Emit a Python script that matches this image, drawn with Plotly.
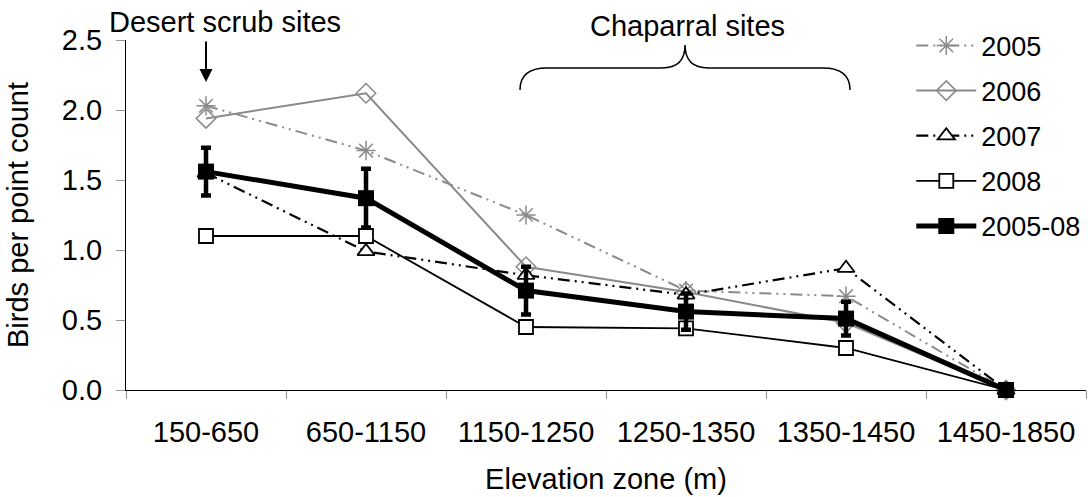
import plotly.graph_objects as go

# Elevation zones (categories on the x axis)
zones = ["150-650", "650-1150", "1150-1250", "1250-1350", "1350-1450", "1450-1850"]

# Birds per point count, by year
y2005 = [2.03, 1.71, 1.25, 0.71, 0.67, 0.0]
y2006 = [1.94, 2.12, 0.88, 0.70, 0.48, 0.0]
y2007 = [1.55, 0.99, 0.82, 0.68, 0.87, 0.0]
y2008 = [1.10, 1.10, 0.45, 0.44, 0.30, 0.0]
mean_0508 = [1.56, 1.37, 0.71, 0.56, 0.51, 0.0]
err_0508 = [0.17, 0.21, 0.17, 0.13, 0.12, 0.0]

# Axis ticks
y_ticks = [0.0, 0.5, 1.0, 1.5, 2.0, 2.5]

FONT = "Liberation Sans, Arial, sans-serif"
GRAY = "#8a8a8a"
DASH_DOT_DOT = "12px,5px,2px,5px,2px,5px"
FS = 29

fig = go.Figure()

fig.add_trace(go.Scatter(
    x=zones, y=y2005, name="2005", mode="lines+markers", legendgroup="a",
    line=dict(color=GRAY, width=2, dash=DASH_DOT_DOT),
    marker=dict(symbol="asterisk-open", size=16, color=GRAY, line=dict(color=GRAY, width=1.5)),
    cliponaxis=False,
))
fig.add_trace(go.Scatter(
    x=zones, y=y2006, name="2006", mode="lines+markers", legendgroup="b",
    line=dict(color=GRAY, width=2),
    marker=dict(symbol="diamond-open", size=15, color=GRAY, line=dict(color=GRAY, width=1.5)),
    cliponaxis=False,
))
fig.add_trace(go.Scatter(
    x=zones, y=y2007, name="2007", mode="lines+markers", legendgroup="c",
    line=dict(color="black", width=2.2, dash=DASH_DOT_DOT),
    marker=dict(symbol="triangle-up", size=15, color="white", line=dict(color="black", width=1.8)),
    cliponaxis=False,
))
fig.add_trace(go.Scatter(
    x=zones, y=y2008, name="2008", mode="lines+markers", legendgroup="d",
    line=dict(color="black", width=1.8),
    marker=dict(symbol="square", size=14, color="white", line=dict(color="black", width=1.8)),
    cliponaxis=False,
))
fig.add_trace(go.Scatter(
    x=zones, y=mean_0508, name="2005-08", mode="lines+markers", legendgroup="e",
    line=dict(color="black", width=5),
    marker=dict(symbol="square", size=16, color="black"),
    error_y=dict(type="data", array=err_0508, visible=True, color="black",
                 thickness=4.5, width=5),
    cliponaxis=False,
))

# Bracket over the chaparral zones
brace = ("M 1.9625,2.143 Q 1.9625,2.30 2.13,2.30 L 2.85,2.30 "
         "Q 2.994,2.30 2.994,2.464 Q 2.994,2.30 3.14,2.30 L 3.856,2.30 "
         "Q 4.025,2.30 4.025,2.143")
fig.add_shape(type="path", path=brace, xref="x", yref="y",
              line=dict(color="black", width=1.5))

fig.add_annotation(x=0.12, y=1.051, xref="x", yref="paper", text="Desert scrub sites",
                   showarrow=False, yanchor="middle",
                   font=dict(size=FS, color="black", family=FONT))
fig.add_annotation(x=3.01, y=1.04, xref="x", yref="paper", text="Chaparral sites",
                   showarrow=False, yanchor="middle",
                   font=dict(size=FS, color="black", family=FONT))
fig.add_annotation(x=0, y=2.2, xref="x", yref="y", text="", showarrow=True,
                   ax=0, ay=-42, arrowhead=2, arrowsize=1.3, arrowwidth=2,
                   arrowcolor="black")

fig.update_layout(
    width=1088, height=497,
    margin=dict(l=126, r=2, t=40, b=107),
    paper_bgcolor="white", plot_bgcolor="white",
    font=dict(family=FONT, size=FS, color="black"),
    showlegend=True,
    legend=dict(x=0.818, y=1.053, xanchor="left", yanchor="top",
                bgcolor="rgba(0,0,0,0)", font=dict(size=27, family=FONT),
                itemwidth=60, tracegroupgap=7, traceorder="grouped"),
    xaxis=dict(
        type="category", range=[-0.5, 5.5], tickson="boundaries",
        showline=True, linecolor="black", linewidth=1,
        ticks="outside", ticklen=8, tickcolor="#999999", tickwidth=1,
        showgrid=False, zeroline=False,
        tickfont=dict(size=FS), ticklabelstandoff=16,
        title=dict(text="Elevation zone (m)", font=dict(size=FS), standoff=21),
    ),
    yaxis=dict(
        range=[0, 2.5], tickvals=y_ticks, tickformat=".1f",
        showline=True, linecolor="black", linewidth=1,
        ticks="outside", ticklen=9, tickcolor="#999999", tickwidth=1,
        showgrid=False, zeroline=False,
        tickfont=dict(size=FS), ticklabelstandoff=8,
        title=dict(text="Birds per point count", font=dict(size=FS), standoff=24),
    ),
)

fig.write_html("out.html")
